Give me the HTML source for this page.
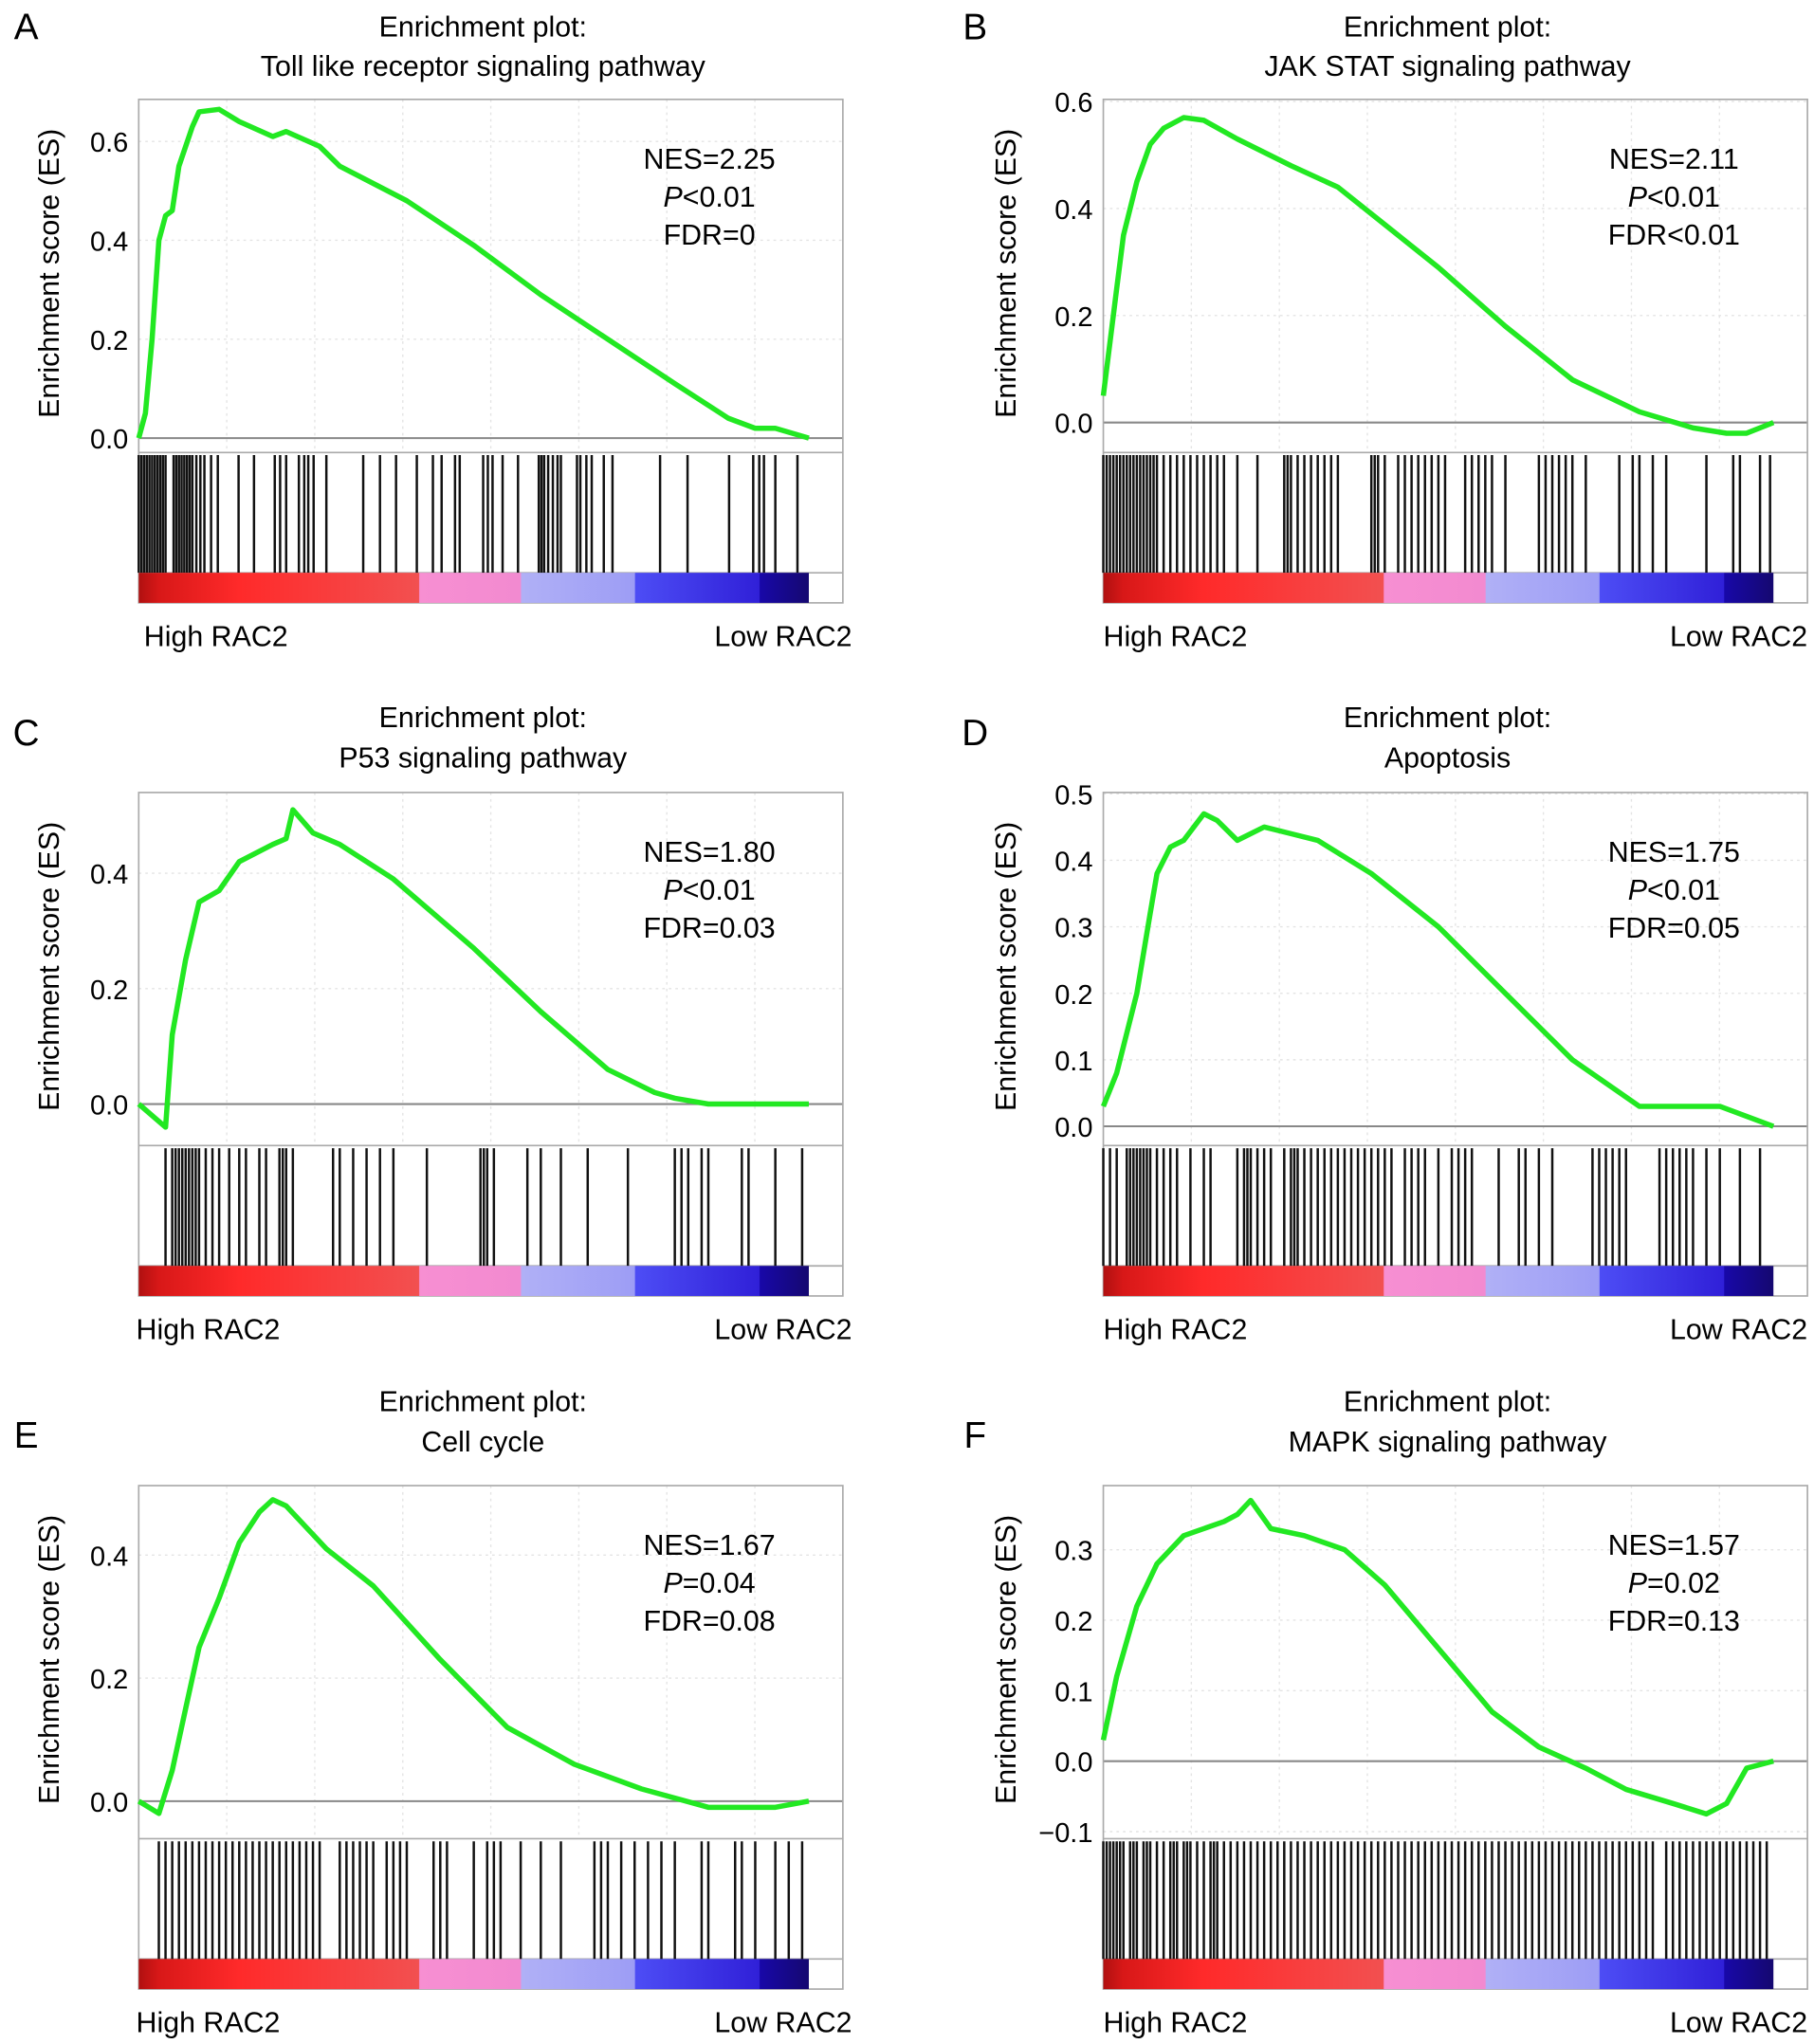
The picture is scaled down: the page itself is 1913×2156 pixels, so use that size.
<!DOCTYPE html>
<html><head><meta charset="utf-8"><style>
html,body{margin:0;padding:0;background:#fff;}
svg{display:block;font-family:"Liberation Sans",Arial,sans-serif;}
</style></head><body>
<svg id="fig" width="1913" height="2156" viewBox="0 0 1386 1563" preserveAspectRatio="none" xmlns="http://www.w3.org/2000/svg"></svg>
<script>
// ---- data ----
const titlesA = ["Toll like receptor signaling pathway","JAK STAT signaling pathway","P53 signaling pathway","Apoptosis","Cell cycle","MAPK signaling pathway"];
const letters = ["A","B","C","D","E","F"];
const nesText = ["NES=2.25","NES=2.11","NES=1.80","NES=1.75","NES=1.67","NES=1.57"];
const pText = ["<0.01","<0.01","<0.01","<0.01","=0.04","=0.02"];
const fdrText = ["FDR=0","FDR<0.01","FDR=0.03","FDR=0.05","FDR=0.08","FDR=0.13"];
const yRanges = [[-0.029,0.685],[-0.056,0.604],[-0.072,0.54],[-0.029,0.502],[-0.061,0.513],[-0.11,0.391]];
const yTicks = [[0,0.2,0.4,0.6],[0,0.2,0.4,0.6],[0,0.2,0.4],[0,0.1,0.2,0.3,0.4,0.5],[0,0.2,0.4],[-0.1,0,0.1,0.2,0.3]];
const yTickLabels = [["0.0","0.2","0.4","0.6"],["0.0","0.2","0.4","0.6"],["0.0","0.2","0.4"],["0.0","0.1","0.2","0.3","0.4","0.5"],["0.0","0.2","0.4"],["\u22120.1","0.0","0.1","0.2","0.3"]];
const curveX = [
[0,0.01,0.02,0.03,0.04,0.05,0.06,0.08,0.09,0.12,0.15,0.2,0.22,0.27,0.3,0.4,0.5,0.6,0.7,0.8,0.88,0.92,0.95,1],
[0,0.01,0.02,0.03,0.05,0.07,0.09,0.12,0.15,0.2,0.28,0.35,0.42,0.5,0.6,0.7,0.8,0.88,0.93,0.96,1],
[0,0.04,0.05,0.07,0.09,0.12,0.15,0.2,0.22,0.23,0.26,0.3,0.38,0.5,0.6,0.7,0.77,0.8,0.85,1],
[0,0.02,0.05,0.07,0.08,0.1,0.12,0.15,0.17,0.2,0.24,0.28,0.32,0.4,0.5,0.6,0.7,0.8,0.86,0.92,1],
[0,0.03,0.05,0.07,0.09,0.12,0.15,0.18,0.2,0.22,0.28,0.35,0.45,0.55,0.65,0.75,0.85,0.95,1],
[0,0.02,0.05,0.08,0.12,0.18,0.2,0.22,0.25,0.3,0.36,0.42,0.5,0.58,0.65,0.72,0.78,0.85,0.9,0.93,0.96,1]];
const curveY = [
[0,0.05,0.2,0.4,0.45,0.46,0.55,0.63,0.66,0.665,0.64,0.61,0.62,0.59,0.55,0.48,0.39,0.29,0.2,0.11,0.04,0.02,0.02,0],
[0.05,0.15,0.25,0.35,0.45,0.52,0.55,0.57,0.565,0.53,0.48,0.44,0.37,0.29,0.18,0.08,0.02,-0.01,-0.02,-0.02,0],
[0,-0.04,0.12,0.25,0.35,0.37,0.42,0.45,0.46,0.51,0.47,0.45,0.39,0.27,0.16,0.06,0.02,0.01,0,0],
[0.03,0.08,0.2,0.32,0.38,0.42,0.43,0.47,0.46,0.43,0.45,0.44,0.43,0.38,0.3,0.2,0.1,0.03,0.03,0.03,0],
[0,-0.02,0.05,0.15,0.25,0.33,0.42,0.47,0.49,0.48,0.41,0.35,0.23,0.12,0.06,0.02,-0.01,-0.01,0],
[0.03,0.12,0.22,0.28,0.32,0.34,0.35,0.37,0.33,0.32,0.3,0.25,0.16,0.07,0.02,-0.01,-0.04,-0.06,-0.075,-0.06,-0.01,0]];
const hits = [
[0,0.004,0.008,0.012,0.016,0.02,0.024,0.028,0.032,0.036,0.04,0.052,0.056,0.06,0.064,0.068,0.072,0.076,0.08,0.086,0.092,0.098,0.108,0.118,0.149,0.172,0.203,0.211,0.22,0.239,0.247,0.253,0.261,0.28,0.335,0.36,0.384,0.415,0.439,0.452,0.472,0.479,0.514,0.521,0.528,0.543,0.566,0.597,0.601,0.605,0.611,0.618,0.625,0.63,0.654,0.659,0.668,0.676,0.694,0.707,0.778,0.819,0.881,0.917,0.926,0.933,0.95,0.983],
[0,0.005,0.01,0.015,0.02,0.025,0.03,0.035,0.04,0.045,0.05,0.055,0.06,0.065,0.07,0.075,0.08,0.09,0.1,0.11,0.12,0.13,0.14,0.15,0.16,0.17,0.18,0.2,0.23,0.27,0.275,0.28,0.29,0.3,0.31,0.32,0.33,0.34,0.35,0.4,0.405,0.41,0.42,0.44,0.45,0.46,0.47,0.48,0.49,0.5,0.51,0.54,0.55,0.56,0.57,0.58,0.6,0.65,0.66,0.67,0.68,0.69,0.7,0.72,0.77,0.79,0.8,0.82,0.84,0.9,0.94,0.95,0.98,0.995],
[0.04,0.05,0.055,0.06,0.065,0.07,0.075,0.08,0.085,0.09,0.1,0.11,0.12,0.135,0.15,0.16,0.18,0.19,0.21,0.215,0.22,0.23,0.29,0.3,0.32,0.34,0.36,0.38,0.43,0.51,0.515,0.52,0.53,0.58,0.6,0.63,0.67,0.73,0.8,0.81,0.82,0.84,0.85,0.9,0.91,0.95,0.99],
[0,0.01,0.02,0.035,0.04,0.045,0.05,0.055,0.06,0.065,0.07,0.08,0.09,0.1,0.11,0.13,0.15,0.16,0.2,0.21,0.215,0.22,0.23,0.24,0.25,0.27,0.28,0.285,0.29,0.3,0.31,0.32,0.33,0.34,0.35,0.36,0.37,0.38,0.39,0.4,0.41,0.42,0.43,0.45,0.46,0.47,0.48,0.5,0.52,0.53,0.54,0.55,0.59,0.62,0.63,0.65,0.67,0.73,0.74,0.75,0.76,0.77,0.78,0.83,0.84,0.85,0.86,0.87,0.88,0.9,0.92,0.95,0.98],
[0.03,0.04,0.05,0.06,0.07,0.08,0.09,0.1,0.11,0.12,0.13,0.14,0.15,0.16,0.17,0.18,0.19,0.2,0.21,0.22,0.23,0.24,0.25,0.26,0.27,0.3,0.31,0.32,0.33,0.34,0.35,0.37,0.38,0.39,0.4,0.44,0.45,0.46,0.5,0.52,0.53,0.54,0.57,0.6,0.63,0.68,0.69,0.7,0.72,0.74,0.76,0.78,0.8,0.84,0.85,0.89,0.9,0.92,0.95,0.97,0.99],
[0,0.005,0.01,0.015,0.02,0.025,0.03,0.04,0.045,0.05,0.06,0.065,0.07,0.08,0.09,0.1,0.105,0.11,0.12,0.125,0.13,0.14,0.15,0.16,0.165,0.17,0.18,0.19,0.2,0.21,0.22,0.23,0.24,0.25,0.26,0.27,0.28,0.29,0.3,0.31,0.32,0.33,0.34,0.35,0.36,0.37,0.38,0.39,0.4,0.41,0.42,0.43,0.44,0.45,0.46,0.47,0.48,0.49,0.5,0.51,0.52,0.53,0.54,0.55,0.56,0.57,0.58,0.59,0.6,0.61,0.62,0.63,0.64,0.65,0.66,0.67,0.68,0.69,0.7,0.71,0.72,0.73,0.74,0.75,0.76,0.77,0.78,0.79,0.8,0.81,0.82,0.84,0.85,0.86,0.87,0.88,0.89,0.9,0.91,0.92,0.93,0.94,0.95,0.96,0.97,0.98,0.99]];
// ---- layout ----
const NS="http://www.w3.org/2000/svg";
const svg=document.getElementById('fig');
function el(t,a,p){const e=document.createElementNS(NS,t);for(const k in a)e.setAttribute(k,a[k]);(p||svg).appendChild(e);return e;}
const colX=[106,843], rowTop=[76,606,1136], titleY=[[20,50],[548,579],[1071,1102]], letterY=[20,560,1097];
const W=538, DW=512, ESH=270;
const defs=el('defs',{});
const lg=el('linearGradient',{id:'rb',x1:0,x2:1,y1:0,y2:0},defs);
[[0,'#b01010'],[0.03,'#d81818'],[0.15,'#ff2a2a'],[0.418,'#f25050'],[0.419,'#f78fd2'],[0.57,'#f28ad0'],[0.571,'#b0b0f6'],[0.74,'#9d9df5'],[0.741,'#4d4df5'],[0.926,'#3020d8'],[0.927,'#1808a8'],[1,'#150870']].forEach(s=>el('stop',{offset:s[0],'stop-color':s[1]},lg));
for(let i=0;i<6;i++){
  const c=i%2,r=Math.floor(i/2);
  const x0=colX[c], t=rowTop[r], eb=t+ESH, bt=eb+92, bb=bt+23;
  const g=el('g',{});
  
  
  const [ymin,ymax]=yRanges[i];
  const xs=f=>x0+f*DW, ys=v=>eb-(v-ymin)/(ymax-ymin)*ESH;
  let tx=el('text',{x:c?745:20,y:letterY[r]+10,'font-size':28,'text-anchor':'middle'},g);tx.textContent=letters[i];
  
  tx=el('text',{x:x0+W/2-6,y:titleY[r][0]+8,'font-size':22,'text-anchor':'middle'},g);tx.textContent='Enrichment plot:';
  
  tx=el('text',{x:x0+W/2-6,y:titleY[r][1]+8,'font-size':22,'text-anchor':'middle'},g);tx.textContent=titlesA[i];
  
  for(let k=1;k<8;k++){el('line',{x1:x0+k*W/8,x2:x0+k*W/8,y1:t,y2:eb,stroke:'#e4e4e4','stroke-dasharray':'2,3'},g);}
  yTicks[i].forEach((v,k)=>{
    if(v!==0) el('line',{x1:x0,x2:x0+W,y1:ys(v),y2:ys(v),stroke:'#e4e4e4','stroke-dasharray':'2,3'},g);
    const lt=el('text',{x:x0-8,y:ys(v)+8,'font-size':21,'text-anchor':'end'},g);lt.textContent=yTickLabels[i][k];
    
  });
  el('line',{x1:x0,x2:x0+W,y1:ys(0),y2:ys(0),stroke:'#888','stroke-width':1.5},g);
  el('rect',{x:x0,y:t,width:W,height:bb-t,fill:'none',stroke:'#aaa','stroke-width':1.2},g);
  el('line',{x1:x0,x2:x0+W,y1:eb,y2:eb,stroke:'#aaa','stroke-width':1.2},g);
  el('line',{x1:x0,x2:x0+W,y1:bt,y2:bt,stroke:'#aaa','stroke-width':1.2},g);
  hits[i].forEach(h=>{const l=el('line',{x1:xs(h),x2:xs(h),y1:eb+2,y2:bt,stroke:'#111','stroke-width':1.8},g);
    });
  const rb=el('rect',{x:x0,y:bt,width:DW,height:bb-bt,fill:'url(#rb)'},g);
  
  const pts=curveX[i].map((f,k)=>xs(f).toFixed(1)+','+ys(curveY[i][k]).toFixed(1)).join(' ');
  const pl=el('polyline',{points:pts,fill:'none',stroke:'#22e822','stroke-width':4,'stroke-linejoin':'round'},g);
  
  const sx=x0+W/2+167;
  tx=el('text',{x:sx,y:t+53,'font-size':22,'text-anchor':'middle'},g);tx.textContent=nesText[i];
  
  tx=el('text',{x:sx,y:t+82,'font-size':22,'text-anchor':'middle'},g);
  const it=el('tspan',{'font-style':'italic'},tx);it.textContent='P';
  const rt=el('tspan',{},tx);rt.textContent=pText[i];
  
  tx=el('text',{x:sx,y:t+111,'font-size':22,'text-anchor':'middle'},g);tx.textContent=fdrText[i];
  
  const cy=(t+eb)/2-2, lx=c?768:37;
  tx=el('text',{x:lx,y:cy,'font-size':22,'text-anchor':'middle',transform:`rotate(-90 ${lx} ${cy})`,dy:8},g);tx.textContent='Enrichment score (ES)';
  
  tx=el('text',{x:x0+(c?0:(r?-2:4)),y:bb+33,'font-size':22,'text-anchor':'start'},g);tx.textContent='High RAC2';
  
  tx=el('text',{x:x0+(c?W:W+7),y:bb+33,'font-size':22,'text-anchor':'end'},g);tx.textContent='Low RAC2';
  
}
</script>
</body></html>
